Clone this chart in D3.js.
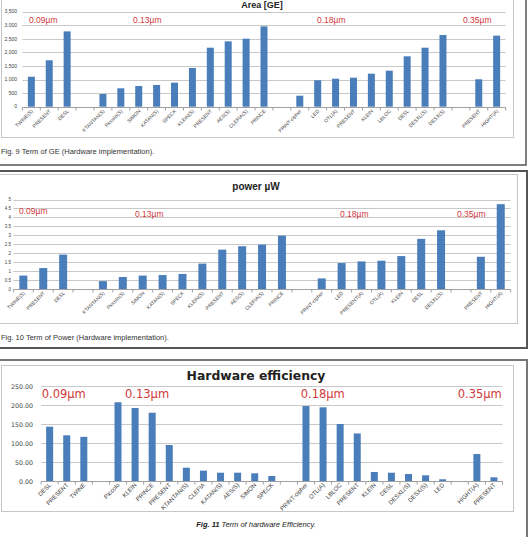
<!DOCTYPE html>
<html><head><meta charset="utf-8">
<script src="https://cdn.jsdelivr.net/npm/d3@7"></script>
<style>html,body{margin:0;padding:0;background:#fff;overflow:hidden}</style>
</head><body>
<script>
// ---------- DATA ----------
const areaCats = ["TWINE(S)","PRESENT","DESL","","KTANTAN(S)","Piccolo(S)","SIMON","KATAN(S)","SPECK","KLEIN(S)","PRESENT","AES(S)","CLEFIA(S)","PRINCE","","PRINT-cipher","LED","OTL(A)","PRESENT","KLEIN","LBLOC","DESL","DESXL(S)","DESX(S)","","PRESENT","HIGHT(A)"];
const areaVals = [1105,1710,2775,null,468,678,763,800,885,1426,2174,2408,2506,2960,null,405,973,1032,1069,1216,1327,1857,2174,2642,null,1010,2617];
const areaTicks = [0,500,1000,1500,2000,2500,3000,3500];

const powerCats = ["TWINE(S)","PRESENT","DESL","","KTANTAN(S)","Piccolo(S)","SIMON","KATAN(S)","SPECK","KLEIN(S)","PRESENT","AES(S)","CLEFIA(S)","PRINCE","","PRINT-cipher","LED","PRESENT(A)","OTL(A)","KLEIN","DESL","DESXL(S)","","PRESENT","HIGHT(A)"];
const powerVals = [0.75,1.17,1.92,null,0.44,0.67,0.75,0.78,0.84,1.42,2.2,2.39,2.48,2.98,null,0.59,1.45,1.54,1.58,1.84,2.8,3.28,null,1.8,4.74];
const powerTicks = [0,0.5,1,1.5,2,2.5,3,3.5,4,4.5,5];

const effCats = ["DESL","PRESENT","TWINE","","Piccolo","KLEIN","PRINCE","PRESENT","KTANTAN(S)","CLEFIA","KATAN(S)","AES(S)","SIMON","SPECK","","PRINT-cipher","OTL(A)","LBLOC","PRESENT","KLEIN","DESL","DESXL(S)","DESX(S)","LED","","HIGHT(A)","PRESENT"];
const effVals = [143.7,121,117,null,208,193,180.5,95.5,35.8,28,22.6,22.6,21,14,null,198,194.7,150.8,126,24.5,22.6,19.2,15.8,5.3,null,71.8,10.5];
const effTicks = [0,50,100,150,200,250];

const techLabels = ["0.09µm","0.13µm","0.18µm","0.35µm"];

// ---------- DRAW ----------
const W = 529, H = 537;
const svg = d3.select("body").append("svg").attr("width", W).attr("height", H);
const BLUE = "#4a7ebb", GRID = "#c8c8c8", RED = "#d0393b";
const SANS = "Liberation Sans, Arial, sans-serif", WIDE = "DejaVu Sans, Verdana, sans-serif";

function drawChart(o) {
  const g = svg.append("g");
  const x = d3.scaleBand().domain(d3.range(o.cats.length)).range([o.x0, o.x1]).paddingInner(0).paddingOuter(0);
  const y = d3.scaleLinear().domain([0, o.max]).range([o.y0, o.yTop]);
  g.selectAll("line.grid").data(o.ticks.filter(t => t > 0)).join("line")
    .attr("x1", o.x0).attr("x2", o.x1)
    .attr("y1", d => Math.round(y(d)) + 0.5).attr("y2", d => Math.round(y(d)) + 0.5)
    .attr("stroke", GRID).attr("stroke-width", 1);
  g.selectAll("text.yl").data(o.ticks).join("text")
    .attr("x", o.ylx).attr("y", d => y(d)).attr("dy", "0.35em")
    .attr("text-anchor", "end").attr("font-family", o.ylFont).attr("font-size", o.ylSize)
    .attr("fill", "#404040").text(d => o.fmt(d));
  const bw = o.bw;
  g.selectAll("rect.bar").data(o.vals.map((v, i) => ({v, i})).filter(d => d.v != null)).join("rect")
    .attr("x", d => x(d.i) + x.bandwidth() / 2 - bw / 2).attr("width", bw)
    .attr("y", d => y(d.v)).attr("height", d => y(0) - y(d.v)).attr("fill", BLUE);
  const ay = Math.round(y(0)) + 0.5;
  g.append("line").attr("x1", o.x0).attr("x2", o.x1).attr("y1", ay).attr("y2", ay).attr("stroke", "#a0a0a0");
  g.selectAll("line.tk").data(d3.range(o.cats.length + 1)).join("line")
    .attr("x1", i => o.x0 + i * x.bandwidth()).attr("x2", i => o.x0 + i * x.bandwidth())
    .attr("y1", ay).attr("y2", ay + 3).attr("stroke", "#a0a0a0");
  g.selectAll("text.cl").data(o.cats.map((c, i) => ({c, i})).filter(d => d.c)).join("text")
    .attr("transform", d => `translate(${x(d.i) + x.bandwidth() / 2 + 2},${ay + 4}) rotate(-45)`)
    .attr("text-anchor", "end").attr("font-family", SANS).attr("font-size", o.clSize)
    .attr("fill", "#404040").text(d => d.c);
  o.tech.forEach((p, i) => {
    g.append("text").attr("x", p[0]).attr("y", p[1]).attr("font-family", o.techFont)
      .attr("font-size", o.techSize).attr("fill", RED).text(techLabels[i]);
  });
  g.append("text").attr("x", o.title[0]).attr("y", o.title[1]).attr("text-anchor", "middle")
    .attr("font-family", o.titleFont).attr("font-size", o.titleSize).attr("font-weight", "bold")
    .attr("fill", "#222").text(o.titleText);
}

function rect(x0, y0, x1, y1, stroke, sw) {
  svg.append("rect").attr("x", x0).attr("y", y0).attr("width", x1 - x0).attr("height", y1 - y0)
    .attr("fill", "none").attr("stroke", stroke).attr("stroke-width", sw);
}
rect(-3, -5, 526, 165, "#555", 1.5);
rect(1.5, -5, 513.5, 137.5, "#c6c6c6", 1);
rect(-3, 171, 527, 348, "#555", 2);
rect(-1, 174.5, 517.5, 323.5, "#c6c6c6", 1);
rect(-3, 360, 527, 545, "#777", 2);
rect(1.5, 365.5, 513.5, 511.5, "#c6c6c6", 1);

drawChart({cats: areaCats, vals: areaVals, ticks: areaTicks, max: 3500,
  x0: 22.4, x1: 505.6, y0: 106.7, yTop: 11.7, bw: 7,
  ylx: 17, ylSize: 5, clSize: 5, ylFont: SANS,
  fmt: d3.format(","),
  tech: [[29, 23], [133, 23], [317, 23], [463, 23]], techFont: SANS, techSize: 8.5,
  title: [262, 8], titleText: "Area  [GE]", titleFont: SANS, titleSize: 9});

drawChart({cats: powerCats, vals: powerVals, ticks: powerTicks, max: 5,
  x0: 13.4, x1: 510.7, y0: 289, yTop: 199.5, bw: 8,
  ylx: 11, ylSize: 4.5, clSize: 5, ylFont: SANS,
  fmt: d => String(d),
  tech: [[19, 214], [135, 216.5], [340, 217], [457, 217]], techFont: SANS, techSize: 8.5,
  title: [256, 189.5], titleText: "power µW", titleFont: SANS, titleSize: 10});

drawChart({cats: effCats, vals: effVals, ticks: effTicks, max: 250,
  x0: 41.1, x1: 502.5, y0: 481.3, yTop: 386.3, bw: 7,
  ylx: 33, ylSize: 6.3, clSize: 6, ylFont: WIDE,
  fmt: d3.format(".2f"),
  tech: [[41.7, 397.5], [125, 397.5], [300.7, 397.5], [457.7, 397.5]], techFont: WIDE, techSize: 11.5,
  title: [256, 379.5], titleText: "Hardware efficiency", titleFont: WIDE, titleSize: 12.4});

svg.append("text").attr("x", 1).attr("y", 154).attr("font-family", SANS)
  .attr("font-size", 7.5).attr("fill", "#333").text("Fig. 9 Term of GE (Hardware implementation).");
svg.append("text").attr("x", 1).attr("y", 340).attr("font-family", SANS)
  .attr("font-size", 7.5).attr("fill", "#333").text("Fig. 10 Term of Power (Hardware implementation).");
const cap3 = svg.append("text").attr("x", 256).attr("y", 527).attr("text-anchor", "middle")
  .attr("font-family", SANS).attr("font-size", 7.5).attr("font-style", "italic").attr("fill", "#222");
cap3.append("tspan").attr("font-weight", "bold").text("Fig. 11");
cap3.append("tspan").text(" Term of hardware Efficiency.");
</script>
</body></html>
